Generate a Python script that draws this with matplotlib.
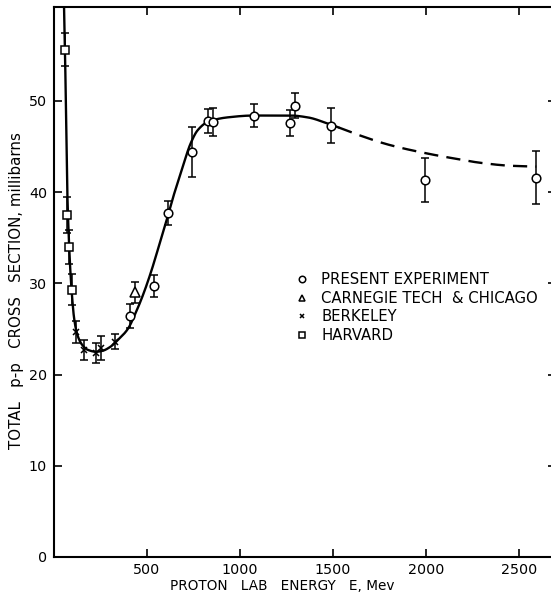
import numpy as np
import matplotlib
matplotlib.use("Agg")
import matplotlib.pyplot as plt

plt.rcParams['font.family'] = ['DejaVu Sans']

# ---- measurements (energy in MeV, cross section in mb, error in mb) ----
present_E = [408, 537, 612, 741, 827, 854, 1074, 1267, 1294, 1488, 1998, 2594]
present_s = [26.4, 29.7, 37.7, 44.4, 47.8, 47.7, 48.4, 47.6, 49.5, 47.3, 41.3, 41.6]
present_err = [1.3, 1.2, 1.3, 2.7, 1.3, 1.5, 1.3, 1.4, 1.4, 1.9, 2.4, 2.9]

carnegie_E = [435]
carnegie_s = [29.0]
carnegie_err = [1.1]

berkeley_E = [118, 161, 226, 252, 328]
berkeley_s = [24.7, 22.7, 22.4, 22.9, 23.6]
berkeley_err = [1.2, 1.1, 1.1, 1.3, 0.8]

harvard_E = [59, 70, 80, 97]
harvard_s = [55.6, 37.5, 34.0, 29.3]
harvard_err = [1.8, 2.0, 1.9, 1.7]

# ---- hand-drawn trend curve (solid part, then dashed extrapolation) ----
curve_E = [54, 59, 65, 71, 76, 82, 89, 97, 108, 125, 150, 183, 226, 260,
           300, 344, 397, 440, 480, 521, 560, 601, 640, 682, 736, 773,
           827, 934, 1074, 1273, 1364, 1488, 1530]
curve_s = [60.3, 55.6, 48.0, 40.5, 37.0, 33.8, 31.0, 28.6, 26.2, 24.4, 23.3,
           22.7, 22.5, 22.6, 23.0, 23.8, 25.0, 26.8, 28.8, 31.2, 33.8, 36.6,
           39.4, 42.1, 45.4, 46.8, 47.7, 48.2, 48.4, 48.4, 48.2, 47.4, 47.1]
dashed_E = [1648, 1800, 1992, 2150, 2300, 2450, 2594]
dashed_s = [46.2, 45.2, 44.3, 43.7, 43.2, 42.9, 42.8]

x_ticks = [500, 1000, 1500, 2000, 2500]
y_ticks = [0, 10, 20, 30, 40, 50]
x_max, y_max = 2700, 60.3


def pchip(xk, yk, xq):
    """Monotone piecewise cubic Hermite interpolation (Fritsch-Carlson)."""
    xk = np.asarray(xk, float)
    yk = np.asarray(yk, float)
    h = np.diff(xk)
    d = np.diff(yk) / h
    m = np.zeros_like(yk)
    for i in range(1, len(xk) - 1):
        if d[i - 1] * d[i] > 0:
            w1 = 2 * h[i] + h[i - 1]
            w2 = h[i] + 2 * h[i - 1]
            m[i] = (w1 + w2) / (w1 / d[i - 1] + w2 / d[i])
    m[0] = d[0]
    m[-1] = d[-1]
    idx = np.clip(np.searchsorted(xk, xq) - 1, 0, len(xk) - 2)
    t = (xq - xk[idx]) / h[idx]
    h00 = 2 * t ** 3 - 3 * t ** 2 + 1
    h10 = t ** 3 - 2 * t ** 2 + t
    h01 = -2 * t ** 3 + 3 * t ** 2
    h11 = t ** 3 - t ** 2
    return (h00 * yk[idx] + h10 * h[idx] * m[idx]
            + h01 * yk[idx + 1] + h11 * h[idx] * m[idx + 1])


fig = plt.figure(figsize=(5.51, 6.02), dpi=100)
ax = fig.add_axes([54 / 551, 45 / 602, 502 / 551, 550 / 602])

knots_E = curve_E + dashed_E
knots_s = curve_s + dashed_s
split = curve_E[-1]
xs_solid = np.unique(np.concatenate([np.linspace(curve_E[0], 120, 400),
                                     np.linspace(120, split, 800)]))
xs_dash = np.linspace(split, dashed_E[-1], 400)
ax.plot(xs_solid, pchip(knots_E, knots_s, xs_solid), color='black', lw=1.7,
        solid_capstyle='round', zorder=2)
ax.plot(xs_dash, pchip(knots_E, knots_s, xs_dash), color='black', lw=1.7,
        dashes=(6, 3.5), zorder=2)

eb = dict(fmt='none', ecolor='black', elinewidth=1.1, capsize=2.8, capthick=1.1, zorder=3)
ax.errorbar(present_E, present_s, yerr=present_err, **eb)
ax.errorbar(carnegie_E, carnegie_s, yerr=carnegie_err, **eb)
ax.errorbar(berkeley_E, berkeley_s, yerr=berkeley_err, **eb)
ax.errorbar(harvard_E, harvard_s, yerr=harvard_err, **eb)

ax.plot(present_E, present_s, 'o', ms=6.2, mfc='white', mec='black', mew=1.1, zorder=4,
        label='PRESENT EXPERIMENT')
ax.plot(carnegie_E, carnegie_s, '^', ms=6.5, mfc='white', mec='black', mew=1.1, zorder=4,
        label='CARNEGIE TECH  & CHICAGO')
ax.plot(berkeley_E, berkeley_s, 'x', ms=4.5, mec='black', mew=1.1, zorder=4,
        label='BERKELEY')
ax.plot(harvard_E, harvard_s, 's', ms=5.2, mfc='white', mec='black', mew=1.1, zorder=4,
        label='HARVARD')

ax.set_xlim(0, x_max)
ax.set_ylim(0, y_max)
ax.set_xticks(x_ticks)
ax.set_yticks(y_ticks)
ax.tick_params(direction='in', length=6, width=1.2, labelsize=10.3,
               top=True, right=True)
ax.tick_params(axis='x', pad=4)
ax.tick_params(axis='y', pad=5)
for side in ('left', 'bottom', 'top'):
    ax.spines[side].set_linewidth(1.5)
ax.spines['right'].set_visible(False)

ax.set_xlabel('PROTON   LAB   ENERGY   E, Mev', fontsize=9.8, va='center')
ax.xaxis.set_label_coords(0.455, -29 / 550)
ax.set_ylabel('TOTAL   p-p   CROSS   SECTION, millibarns', fontsize=10.8, va='center')
ax.yaxis.set_label_coords(-37 / 502, 0.484)

ax.legend(loc='upper left', bbox_to_anchor=(296 / 551, 1 - 272 / 602),
          bbox_transform=fig.transFigure, frameon=False, fontsize=10.7,
          handlelength=0.8, handletextpad=0.9, labelspacing=0.25,
          borderpad=0, borderaxespad=0, markerscale=0.75)

fig.savefig('out.png', dpi=100)
